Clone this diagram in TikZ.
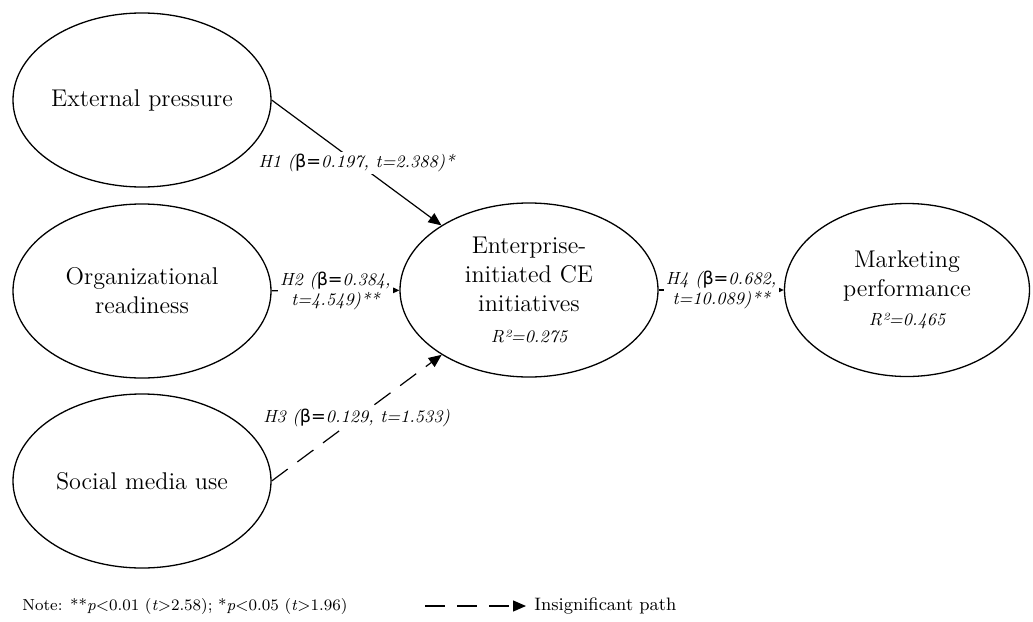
\documentclass[tikz,border=0pt]{standalone}
\usepackage{fontspec}
\usetikzlibrary{shapes.geometric,arrows.meta}
\newfontfamily\betafont{DejaVu Sans}
\newcommand{\bq}{{\upshape\betafont β=}}
\tikzset{
	construct/.style={draw,ellipse,line width=0.65pt,inner sep=0pt,align=center,
		minimum width=129pt,minimum height=87pt,font=\fontsize{12.1}{14.5}\selectfont},
	hyp/.style={line width=0.6pt,-{Triangle[length=4.5pt,width=4pt]}},
	bighyp/.style={line width=0.6pt,-{Triangle[length=6.5pt,width=5.5pt]}},
	insig/.style={bighyp,dash pattern=on 10pt off 6pt},
	coef/.style={fill=white,inner sep=1pt,align=center,font=\fontsize{8.8}{10}\selectfont\itshape},
	notetext/.style={anchor=west,inner sep=0pt,font=\fontsize{8}{10}\selectfont}
}
\begin{document}
\begin{tikzpicture}[x=0.5pt,y=-0.5pt]
	\useasboundingbox (0,0) rectangle (1033,621);
	\node[construct] (ext) at (142,100) {External pressure};
	\node[construct] (org) at (142,291) {Organizational\\readiness};
	\node[construct] (soc) at (142,481) {Social media use};
	\node[construct] (ce) at (529,290) {Enterprise-\\initiated CE\\initiatives\\[1pt]{\fontsize{8.8}{10}\selectfont\itshape R²=0.275}};
	\node[construct,minimum width=122.5pt,minimum height=86.5pt] (mkt) at (907,290) {Marketing\\performance\\{\fontsize{8.8}{10}\selectfont\itshape R²=0.465}};
	\draw[bighyp] (ext.east) -- node[coef]{H1 (\bq0.197, t=2.388)*} (ce);
	\draw[hyp] (org) -- node[coef]{H2 (\bq0.384,\\t=4.549)**} (ce);
	\draw[insig] (soc.east) -- node[coef]{H3 (\bq0.129, t=1.533)} (ce);
	\draw[hyp] (ce) -- node[coef]{H4 (\bq0.682,\\t=10.089)**} (mkt);
	% legend
	\node[notetext] (note) at (22,606) {Note: **\textit{p}<0.01 (\textit{t}>2.58); *\textit{p}<0.05 (\textit{t}>1.96)};
	\coordinate (lgs) at (425,606);
	\coordinate (lge) at (526,606);
	\draw[insig] (lgs) -- (lge);
	\node[notetext,font=\fontsize{9}{10}\selectfont] (lgt) at ([xshift=4pt]lge) {Insignificant path};
\end{tikzpicture}
\end{document}
